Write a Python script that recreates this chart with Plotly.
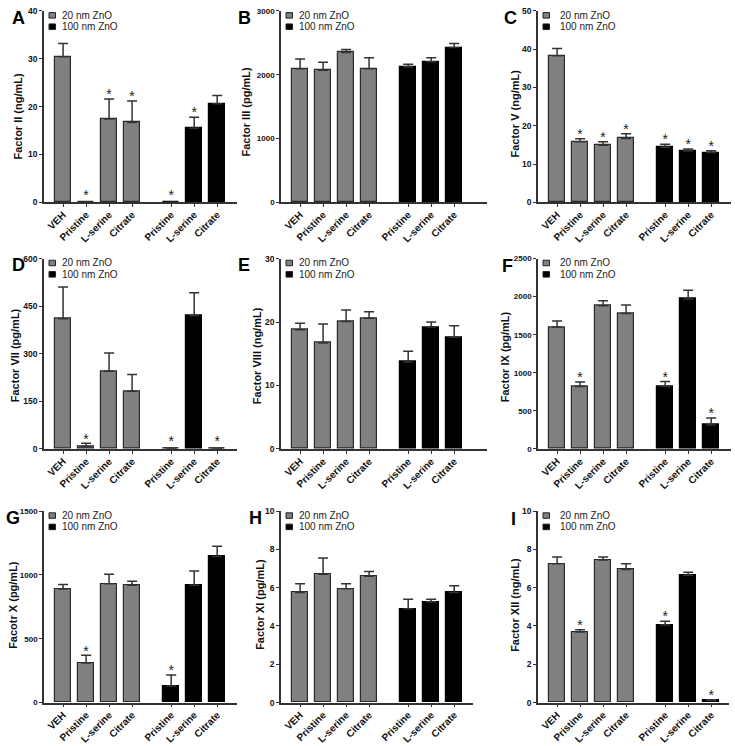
import plotly.graph_objects as go

# ---------------- data ----------------
categories = ["VEH", "Pristine", "L-serine", "Citrate", "Pristine", "L-serine", "Citrate"]
series_names = ["20 nm ZnO", "100 nm ZnO"]
n_20nm = 4  # first four bars are 20 nm ZnO, remaining three are 100 nm ZnO

panel_letters = ["A", "B", "C", "D", "E", "F", "G", "H", "I"]
y_titles = ["Factor II (ng/mL)", "Factor III (pg/mL)", "Factor V (ng/mL)",
            "Factor VII (pg/mL)", "Factor VIII (ng/mL)", "Factor IX (pg/mL)",
            "Facotr X (pg/mL)", "Factor XI (pg/mL)", "Factor XII (ng/mL)"]
y_max = [40, 3000, 50, 600, 30, 2500, 1500, 10, 10]
y_dtick = [10, 1000, 10, 150, 10, 500, 500, 2, 2]

factor_ii_mean = [30.4, 0, 17.4, 16.7, 0, 15.5, 20.6]
factor_ii_err = [2.8, 0, 4.2, 4.5, 0, 2.3, 1.7]
factor_ii_sig = [0, 1, 1, 1, 1, 1, 0]

factor_iii_mean = [2095, 2070, 2350, 2095, 2120, 2205, 2425]
factor_iii_err = [150, 125, 45, 170, 45, 60, 65]
factor_iii_sig = [0, 0, 0, 0, 0, 0, 0]

factor_v_mean = [38.3, 15.8, 14.9, 16.7, 14.4, 13.4, 13.0]
factor_v_err = [1.9, 0.8, 0.9, 1.2, 0.8, 0.5, 0.5]
factor_v_sig = [0, 1, 1, 1, 1, 1, 1]

factor_vii_mean = [410, 8, 245, 182, 0, 420, 0]
factor_vii_err = [100, 10, 57, 53, 0, 72, 0]
factor_vii_sig = [0, 1, 0, 0, 1, 0, 1]

factor_viii_mean = [18.8, 16.7, 20.1, 20.6, 13.7, 19.2, 17.6]
factor_viii_err = [1.0, 3.0, 1.8, 1.0, 1.7, 0.8, 1.8]
factor_viii_sig = [0, 0, 0, 0, 0, 0, 0]

factor_ix_mean = [1600, 820, 1880, 1780, 820, 1970, 315]
factor_ix_err = [80, 60, 65, 110, 65, 115, 90]
factor_ix_sig = [0, 1, 0, 0, 1, 0, 1]

factor_x_mean = [890, 310, 930, 920, 130, 920, 1145]
factor_x_err = [35, 60, 75, 30, 85, 110, 80]
factor_x_sig = [0, 1, 0, 0, 1, 0, 0]

factor_xi_mean = [5.75, 6.7, 5.95, 6.6, 4.9, 5.25, 5.75]
factor_xi_err = [0.45, 0.85, 0.25, 0.25, 0.5, 0.15, 0.35]
factor_xi_sig = [0, 0, 0, 0, 0, 0, 0]

factor_xii_mean = [7.25, 3.68, 7.45, 6.95, 4.05, 6.65, 0.1]
factor_xii_err = [0.35, 0.12, 0.15, 0.3, 0.2, 0.15, 0.05]
factor_xii_sig = [0, 1, 0, 0, 1, 0, 1]

means = [factor_ii_mean, factor_iii_mean, factor_v_mean, factor_vii_mean, factor_viii_mean,
         factor_ix_mean, factor_x_mean, factor_xi_mean, factor_xii_mean]
errs = [factor_ii_err, factor_iii_err, factor_v_err, factor_vii_err, factor_viii_err,
        factor_ix_err, factor_x_err, factor_xi_err, factor_xii_err]
sigs = [factor_ii_sig, factor_iii_sig, factor_v_sig, factor_vii_sig, factor_viii_sig,
        factor_ix_sig, factor_x_sig, factor_xi_sig, factor_xii_sig]

# ---------------- layout constants ----------------
W, H = 735, 746
xpos = [0, 1, 2, 3, 4.7, 5.7, 6.7]
PX_PER_UNIT = 23.0
LEFT_UNITS = -0.83

col_x0 = [44, 281, 538]
panel_x1 = [237, 487, 731, 237, 487, 731, 237, 473, 729]
row_top = [6, 257, 513]
row_bot = [200, 450, 707]

title_pos = [(18, 113), (246, 108), (515, 110),
             (15, 355), (257, 356), (505, 357),
             (13, 608), (260, 608), (515, 608)]
letter_pos = [(18, 13), (244, 13), (510, 13),
              (18, 264), (244, 264), (507, 265),
              (13, 520), (255, 520), (513, 521)]
ytick_size = [8.5, 8, 8.5, 8.5, 8.5, 8, 8, 8.5, 8.5]
legend_sq_off = [5, 5, 5]
legend_txt_off = [16, 16, 20]

FONT = "Liberation Sans, Arial, sans-serif"
GRAY = "#808080"
AX = "#333333"


def fx(px):
    return px / W


def fy(py):
    return 1 - py / H


fig = go.Figure()
layout = dict(width=W, height=H, margin=dict(l=0, r=0, t=0, b=0),
              paper_bgcolor="white", plot_bgcolor="white", showlegend=False,
              bargap=0, font=dict(family=FONT, color="#111"))
shapes = []
annotations = []

for i in range(9):
    r, c = divmod(i, 3)
    sfx = "" if i == 0 else str(i + 1)
    xa, ya = "x" + sfx, "y" + sfx
    x0, x1 = col_x0[c], panel_x1[i]
    top, bot = row_top[r], row_bot[r]
    ym = y_max[i]
    m, e, s = means[i], errs[i], sigs[i]

    for g, (lo, hi) in enumerate([(0, n_20nm), (n_20nm, len(categories))]):
        fill = GRAY if g == 0 else "#000000"
        fig.add_trace(go.Bar(
            x=xpos[lo:hi], y=m[lo:hi], width=0.67, name=series_names[g],
            xaxis=xa, yaxis=ya,
            marker=dict(color=fill, line=dict(color="#2a2a2a" if g == 0 else "#000", width=1.2)),
            error_y=dict(type="data", symmetric=False, array=e[lo:hi],
                         arrayminus=[0] * (hi - lo), color=AX, thickness=1.5, width=5),
            hoverinfo="x+y"))

    sx, sy = [], []
    for k in range(len(categories)):
        if s[k]:
            tip = m[k] + e[k]
            sx.append(xpos[k])
            sy.append(tip + (0.017 if tip > 0 else 0.032) * ym)
    if sx:
        fig.add_trace(go.Scatter(x=sx, y=sy, mode="text", text=["*"] * len(sx),
                                 textposition="middle center", cliponaxis=False,
                                 textfont=dict(size=14, color="#222", family=FONT),
                                 xaxis=xa, yaxis=ya, hoverinfo="skip"))

    width_units = (x1 - x0) / PX_PER_UNIT
    layout["xaxis" + sfx] = dict(
        domain=[fx(x0), fx(x1)], range=[LEFT_UNITS, LEFT_UNITS + width_units],
        anchor=ya, showline=True, linecolor=AX, linewidth=1.5,
        ticks="outside", ticklen=3, tickcolor=AX, tickwidth=1,
        tickmode="array", tickvals=xpos, ticktext=categories, tickangle=-45,
        ticklabelstandoff=-2,
        tickfont=dict(family=FONT, size=10, color="#111", weight="bold"),
        showgrid=False, zeroline=False, fixedrange=True)
    layout["yaxis" + sfx] = dict(
        domain=[fy(bot), fy(top)], range=[0, ym], dtick=y_dtick[i], tick0=0,
        anchor=xa, showline=True, linecolor=AX, linewidth=1.5,
        ticks="outside", ticklen=3, tickcolor=AX, tickwidth=1,
        tickfont=dict(family=FONT, size=ytick_size[i], color="#111", weight="bold"),
        showgrid=False, zeroline=False, fixedrange=True)

    # y title
    tx, ty = title_pos[i]
    annotations.append(dict(text=y_titles[i], x=fx(tx), y=fy(ty), xref="paper", yref="paper",
                            textangle=-90, showarrow=False, xanchor="center", yanchor="middle",
                            font=dict(family=FONT, size=11, color="#111", weight="bold")))
    # panel letter
    lx, ly = letter_pos[i]
    annotations.append(dict(text=panel_letters[i], x=fx(lx), y=fy(ly), xref="paper", yref="paper",
                            showarrow=False, xanchor="center", yanchor="middle",
                            font=dict(family=FONT, size=18, color="#000", weight="bold")))
    # legend
    for g in range(2):
        cy = top + 4.5 + 11.5 * g
        sqx = x0 + legend_sq_off[c]
        shapes.append(dict(type="rect", xref="paper", yref="paper",
                           x0=fx(sqx), x1=fx(sqx + 6.5), y0=fy(cy + 2.8), y1=fy(cy - 2.8),
                           fillcolor=GRAY if g == 0 else "#000", line=dict(color="#222", width=1)))
        annotations.append(dict(text=series_names[g], x=fx(x0 + legend_txt_off[c]), y=fy(cy),
                                xref="paper", yref="paper", showarrow=False,
                                xanchor="left", yanchor="middle",
                                font=dict(family=FONT, size=10, color="#222")))

layout["shapes"] = shapes
layout["annotations"] = annotations
fig.update_layout(**layout)
fig.write_html("out.html", config={"displayModeBar": False},
               post_script="document.body.style.margin='0';document.body.style.overflow='hidden';")
